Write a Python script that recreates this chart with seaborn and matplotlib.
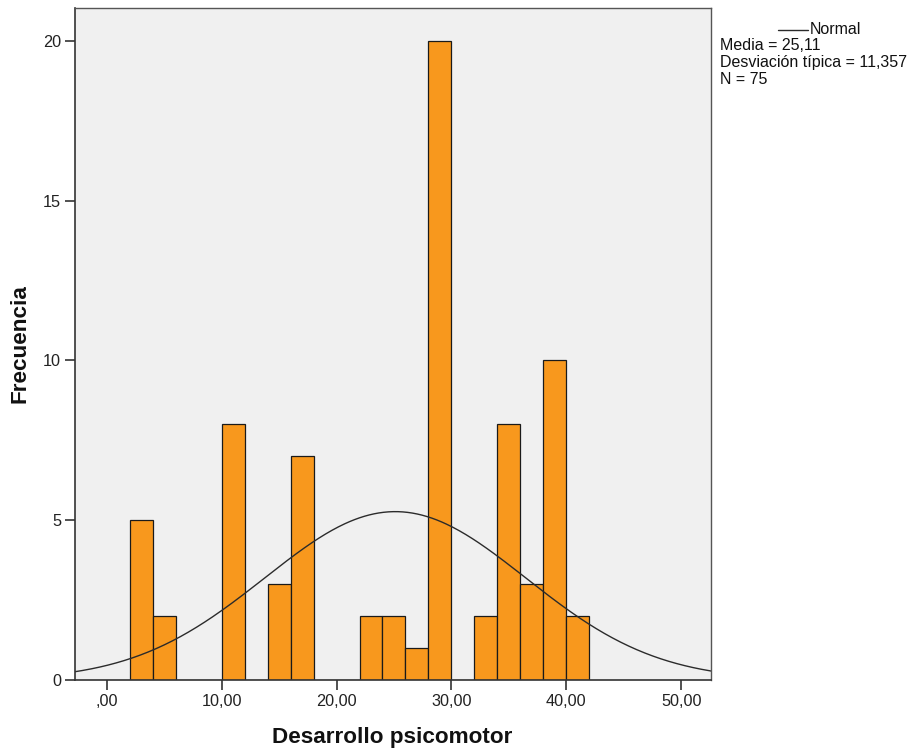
import numpy as np
import pandas as pd
import matplotlib
matplotlib.use("Agg")
import matplotlib.pyplot as plt
import seaborn as sns

# Histogram bins (lower edge of each 2-point bin) and their frequencies
bin_starts = [2, 4, 10, 14, 16, 22, 24, 26, 28, 32, 34, 36, 38, 40]
frequencies = [5, 2, 8, 3, 7, 2, 2, 1, 20, 2, 8, 3, 10, 2]
bin_width = 2

# Summary statistics
media = 25.11
desviacion = 11.357
n_total = 75

x_ticks = [0, 10, 20, 30, 40, 50]
x_tick_labels = [",00", "10,00", "20,00", "30,00", "40,00", "50,00"]
y_ticks = [0, 5, 10, 15, 20]

sns.set_theme(style="white")
plt.rcParams["font.family"] = ["Liberation Sans", "DejaVu Sans"]

df = pd.DataFrame({"centro": np.array(bin_starts, dtype=float) + bin_width / 2,
                   "frecuencia": np.array(frequencies, dtype=float)})

fig = plt.figure(figsize=(9.21, 7.54), dpi=100)
ax = fig.add_axes([75 / 921, 74 / 754, 636 / 921, 672 / 754])
ax.set_facecolor("#F0F0F0")

sns.histplot(data=df, x="centro", weights="frecuencia",
             binwidth=bin_width, binrange=(2, 42), ax=ax,
             color="#F8981D", alpha=1.0, edgecolor="#1a1a1a", linewidth=0.9)

# Fitted normal curve scaled to counts
xs = np.linspace(-3, 53, 400)
pdf = np.exp(-0.5 * ((xs - media) / desviacion) ** 2) / (desviacion * np.sqrt(2 * np.pi))
sns.lineplot(x=xs, y=n_total * bin_width * pdf, ax=ax, color="#2b2b2b", linewidth=1.0)

ax.set_xlim(-2.77, 52.6)
ax.set_ylim(0, 21.03)
ax.set_xticks(x_ticks)
ax.set_xticklabels(x_tick_labels)
ax.set_yticks(y_ticks)
ax.tick_params(axis="both", direction="out", length=7, width=1.2, color="#333333",
               labelsize=11.7, labelcolor="#222222", pad=3, bottom=True, left=True)

for side in ["left", "bottom"]:
    ax.spines[side].set_color("#333333")
    ax.spines[side].set_linewidth(1.2)
for side in ["top", "right"]:
    ax.spines[side].set_color("#555555")
    ax.spines[side].set_linewidth(1.0)

ax.set_xlabel("Desarrollo psicomotor", fontsize=16.2, fontweight="bold", color="#111111")
ax.set_ylabel("Frecuencia", fontsize=16.2, fontweight="bold", color="#111111")
ax.xaxis.label.set_va("center")
ax.yaxis.label.set_va("center")
ax.xaxis.set_label_coords(0.4995, -0.0863)
ax.yaxis.set_label_coords(-0.0865, 0.5)

# Legend block to the right of the plot
fig.lines.append(plt.Line2D([778 / 921, 808 / 921], [1 - 30 / 754, 1 - 30 / 754],
                            transform=fig.transFigure, color="#2b2b2b", linewidth=1.0))
txt = dict(fontsize=11.5, va="center", ha="left", color="#111111")
fig.text(810 / 921, 1 - 30 / 754, "Normal", **txt)
fig.text(720 / 921, 1 - 46 / 754, "Media = 25,11", **txt)
fig.text(720 / 921, 1 - 63 / 754, "Desviación típica = 11,357", **txt)
fig.text(720 / 921, 1 - 80 / 754, "N = 75", **txt)

fig.savefig("out.png", dpi=100, facecolor="white")
